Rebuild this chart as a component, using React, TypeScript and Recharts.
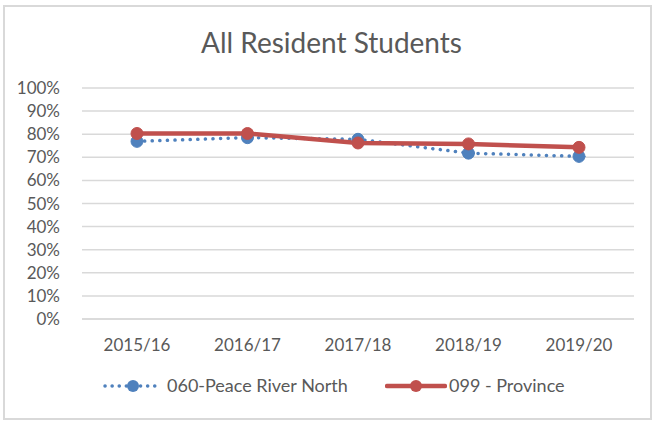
import React from 'react';
import { LineChart, Line, XAxis, YAxis, CartesianGrid, Legend } from 'recharts';

const years = ['2015/16', '2016/17', '2017/18', '2018/19', '2019/20'];
const peaceRiverNorth = [0.769, 0.785, 0.778, 0.718, 0.704];
const province = [0.803, 0.803, 0.762, 0.758, 0.743];
const yTicks = [0, 0.1, 0.2, 0.3, 0.4, 0.5, 0.6, 0.7, 0.8, 0.9, 1];

const seriesNames = ['060-Peace River North', '099 - Province'];
const BLUE = '#4f81bd';
const RED = '#c0504d';
const TEXT = '#595959';
const FONT = 'Lato, "Open Sans", sans-serif';

const data = years.map((year, i) => ({
  year,
  north: peaceRiverNorth[i],
  province: province[i],
}));

function ChartLegend() {
  return (
    <div style={{ position: 'relative', height: 24, fontFamily: FONT, fontSize: 18, color: TEXT }}>
      <svg width={60} height={24} style={{ position: 'absolute', left: 102, top: 0 }}>
        <line x1={3} y1={12} x2={58} y2={12} stroke={BLUE} strokeWidth={3.5} strokeDasharray="0.1 7" strokeLinecap="round" />
        <circle cx={31} cy={12} r={6} fill={BLUE} />
      </svg>
      <span style={{ position: 'absolute', left: 167, top: 0, whiteSpace: 'nowrap' }}>{seriesNames[0]}</span>
      <svg width={62} height={24} style={{ position: 'absolute', left: 385, top: 0 }}>
        <line x1={2} y1={12} x2={60} y2={12} stroke={RED} strokeWidth={4.5} strokeLinecap="round" />
        <circle cx={31} cy={12} r={6} fill={RED} />
      </svg>
      <span style={{ position: 'absolute', left: 449, top: 0, whiteSpace: 'nowrap' }}>{seriesNames[1]}</span>
    </div>
  );
}

export default function App() {
  return (
    <div style={{ position: 'absolute', left: 0, top: 0, width: 655, height: 422, background: '#fff' }}>
      <div
        style={{
          position: 'absolute',
          left: 3,
          top: 5,
          width: 645,
          height: 411,
          border: '2px solid #d9d9d9',
        }}
      />
      <div
        style={{
          position: 'absolute',
          left: 0,
          top: 25,
          width: 663,
          textAlign: 'center',
          fontFamily: FONT,
          fontSize: 28,
          color: TEXT,
        }}
      >
        All Resident Students
      </div>
      <div style={{ position: 'absolute', left: 0, top: 0 }}>
        <LineChart
          width={655}
          height={422}
          data={data}
          margin={{ top: 88, right: 21, bottom: 63, left: 20 }}
        >
          <CartesianGrid vertical={false} stroke="#d9d9d9" strokeWidth={1.5} />
          <XAxis
            dataKey="year"
            axisLine={{ stroke: '#d9d9d9', strokeWidth: 1.5 }}
            tickLine={false}
            tick={{ fill: TEXT, fontSize: 17, fontFamily: FONT }}
            tickMargin={14}
            height={40}
            padding={{ left: 55, right: 55 }}
          />
          <YAxis
            domain={[0, 1]}
            ticks={yTicks}
            tickFormatter={(v: number) => `${Math.round(v * 100)}%`}
            axisLine={false}
            tickLine={false}
            tick={{ fill: TEXT, fontSize: 17, fontFamily: FONT }}
            tickMargin={16}
            width={62}
            interval={0}
          />
          <Line
            dataKey="north"
            name={seriesNames[0]}
            stroke={BLUE}
            strokeWidth={3.5}
            strokeDasharray="0.1 7.5"
            strokeLinecap="round"
            dot={{ r: 6, fill: BLUE, stroke: BLUE, strokeWidth: 1, strokeDasharray: '' }}
            isAnimationActive={false}
          />
          <Line
            dataKey="province"
            name={seriesNames[1]}
            stroke={RED}
            strokeWidth={4.5}
            dot={{ r: 6, fill: RED, stroke: RED, strokeWidth: 1 }}
            isAnimationActive={false}
          />
          <Legend
            layout="horizontal"
            verticalAlign="middle"
            content={() => <ChartLegend />}
            wrapperStyle={{ left: 0, top: 374, width: 655 }}
          />
        </LineChart>
      </div>
    </div>
  );
}
